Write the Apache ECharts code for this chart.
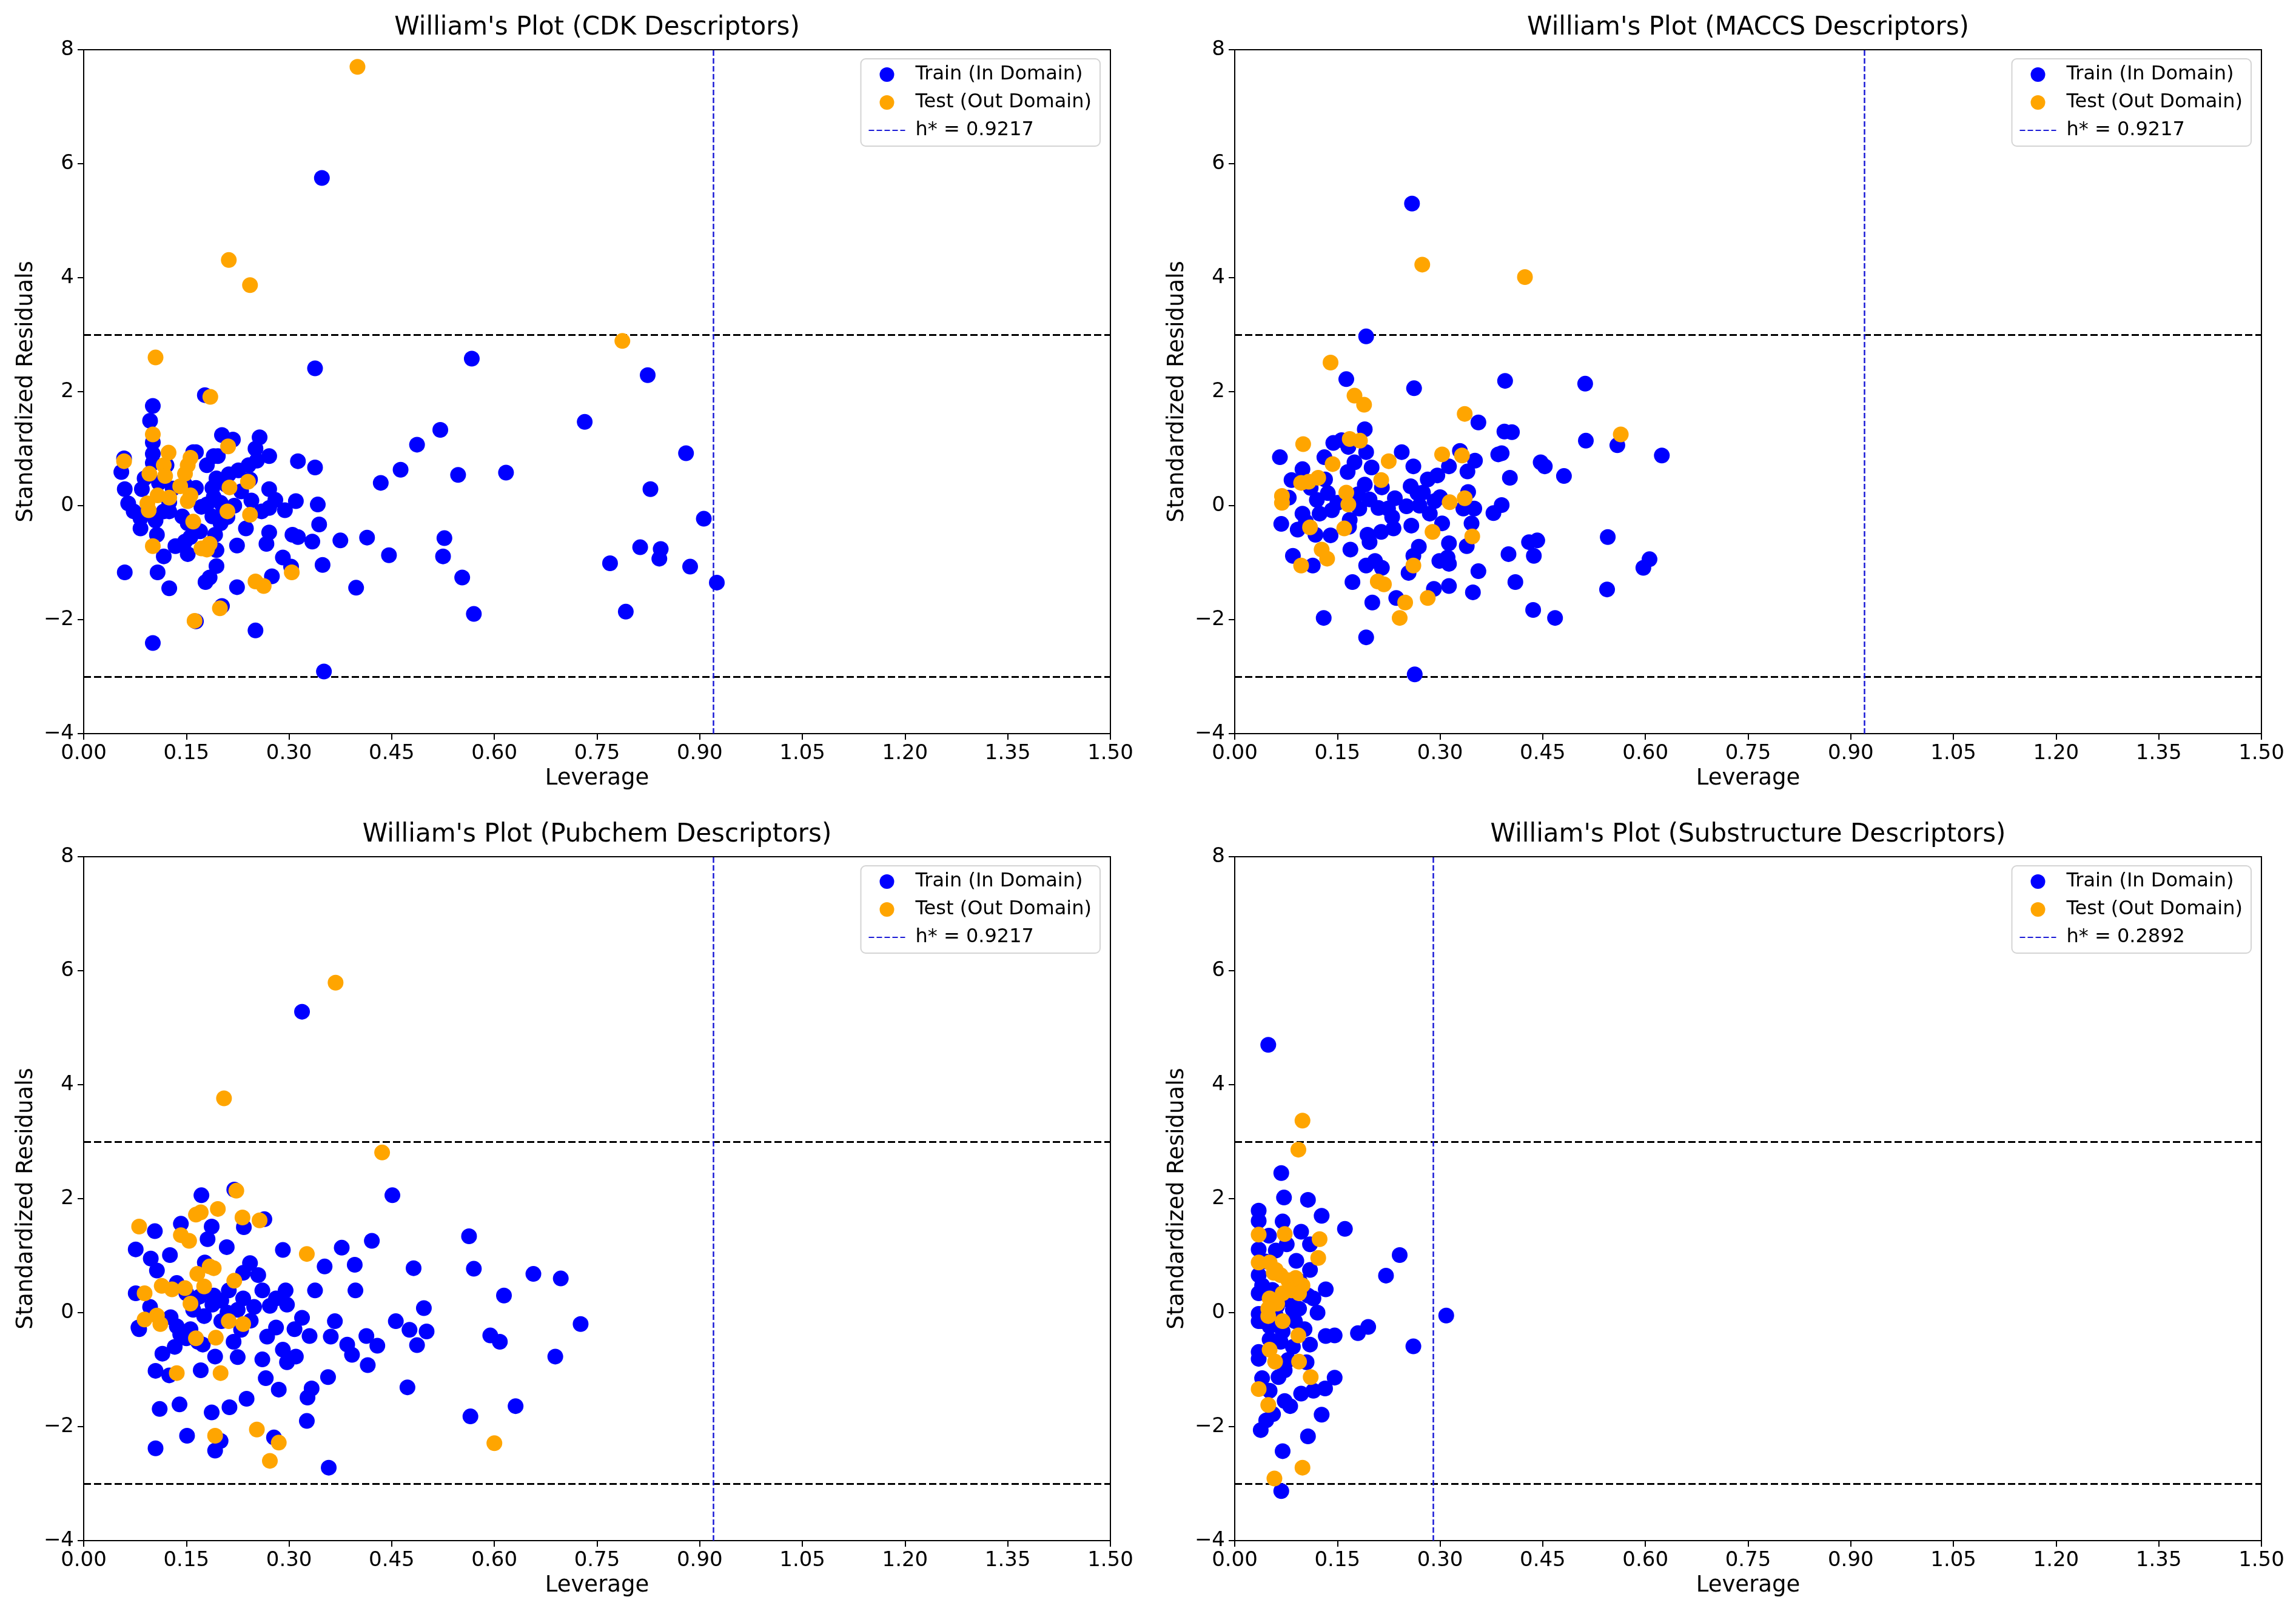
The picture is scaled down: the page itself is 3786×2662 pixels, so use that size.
<!DOCTYPE html>
<html>
<head>
<meta charset="utf-8">
<script src="https://cdn.jsdelivr.net/npm/echarts@6/dist/echarts.min.js"></script>
<style>
  html, body { margin: 0; padding: 0; background: #fff; }
  #chart { width: 3786px; height: 2662px; }
</style>
</head>
<body>
<div id="chart"></div>
<script>
// axis ranges (shared by all four panels)
const xMin = 0, xMax = 1.5, xStep = 0.15;
const yMin = -4, yMax = 8, yStep = 2;
const residualLimits = [3, -3];

const panelTitles = [
  "William's Plot (CDK Descriptors)",
  "William's Plot (MACCS Descriptors)",
  "William's Plot (Pubchem Descriptors)",
  "William's Plot (Substructure Descriptors)"
];
const hStar = [0.9217, 0.9217, 0.9217, 0.2892];
const trainName = 'Train (In Domain)';
const testName = 'Test (Out Domain)';

// [leverage, standardized residual]
const cdkTrain = [
  [0.338, 2.41], [0.567, 2.58], [0.177, 1.94], [0.101, 1.75], [0.097, 1.49], [0.101, 1.11],
  [0.101, 0.91], [0.101, 0.75], [0.059, 0.83], [0.055, 0.59], [0.060, 0.29], [0.065, 0.04],
  [0.073, -0.10], [0.083, -0.22], [0.083, -0.40], [0.093, -0.10], [0.089, 0.48], [0.085, 0.29],
  [0.105, -0.26], [0.107, -0.51], [0.117, -0.10], [0.125, 0.06], [0.125, -0.10], [0.121, 0.71],
  [0.144, -0.19], [0.148, 0.37], [0.160, 0.94], [0.152, -0.31], [0.164, 0.31], [0.172, -0.02],
  [0.180, 0.02], [0.188, 0.31], [0.194, 0.48], [0.196, 0.87], [0.202, 1.24], [0.218, 1.16],
  [0.188, -0.19], [0.200, -0.31], [0.204, -0.10], [0.192, -0.51], [0.194, -0.78], [0.194, -1.06],
  [0.184, -1.26], [0.178, -1.34], [0.156, -0.55], [0.148, -0.63], [0.134, -0.71], [0.152, -0.85],
  [0.117, -0.89], [0.108, -1.17], [0.060, -1.17], [0.125, -1.45], [0.202, -1.76], [0.164, -2.03],
  [0.101, -2.41], [0.251, -2.19], [0.224, -1.43], [0.275, -1.24], [0.303, -1.07], [0.291, -0.91],
  [0.224, -0.70], [0.237, -0.40], [0.267, -0.67], [0.271, -0.47], [0.305, -0.51], [0.313, -0.55],
  [0.334, -0.63], [0.375, -0.61], [0.414, -0.56], [0.446, -0.87], [0.398, -1.44], [0.349, -1.04],
  [0.344, -0.33], [0.342, 0.02], [0.310, 0.08], [0.294, -0.08], [0.271, -0.04], [0.271, 0.29],
  [0.245, 0.09], [0.243, 0.46], [0.241, 0.71], [0.253, 0.79], [0.271, 0.87], [0.257, 1.20],
  [0.251, 1.00], [0.226, 0.62], [0.212, 0.55], [0.208, 0.37], [0.180, 0.71], [0.190, 0.87],
  [0.164, 0.94], [0.313, 0.78], [0.338, 0.67], [0.434, 0.40], [0.463, 0.63], [0.487, 1.07],
  [0.521, 1.33], [0.547, 0.54], [0.527, -0.57], [0.525, -0.89], [0.553, -1.26], [0.570, -1.90],
  [0.617, 0.58], [0.732, 1.47], [0.824, 2.29], [0.880, 0.92], [0.828, 0.29], [0.906, -0.23],
  [0.813, -0.73], [0.843, -0.76], [0.841, -0.93], [0.769, -1.01], [0.886, -1.07], [0.925, -1.35],
  [0.792, -1.86], [0.348, 5.75], [0.351, -2.91], [0.200, 0.05], [0.210, -0.20], [0.190, 0.15],
  [0.220, 0.00], [0.170, -0.45], [0.130, 0.30], [0.110, 0.40], [0.230, 0.25], [0.260, -0.10],
  [0.280, 0.10]
];
const cdkTest = [
  [0.400, 7.70], [0.212, 4.31], [0.243, 3.87], [0.787, 2.89], [0.105, 2.60], [0.185, 1.91],
  [0.101, 1.25], [0.124, 0.93], [0.211, 1.04], [0.059, 0.78], [0.156, 0.84], [0.152, 0.71],
  [0.148, 0.56], [0.117, 0.71], [0.119, 0.52], [0.096, 0.56], [0.141, 0.34], [0.213, 0.32],
  [0.240, 0.42], [0.108, 0.18], [0.125, 0.14], [0.156, 0.18], [0.152, 0.08], [0.093, 0.04],
  [0.095, -0.08], [0.210, -0.10], [0.243, -0.16], [0.160, -0.28], [0.101, -0.71], [0.172, -0.75],
  [0.184, -0.67], [0.180, -0.77], [0.304, -1.17], [0.251, -1.33], [0.263, -1.41], [0.199, -1.80],
  [0.162, -2.02]
];

const maccsTrain = [
  [0.259, 5.30], [0.192, 2.97], [0.163, 2.22], [0.262, 2.06], [0.395, 2.19], [0.512, 2.14],
  [0.190, 1.34], [0.356, 1.46], [0.394, 1.30], [0.405, 1.29], [0.513, 1.14], [0.559, 1.06],
  [0.624, 0.88], [0.066, 0.85], [0.144, 1.10], [0.156, 1.15], [0.166, 1.03], [0.244, 0.94],
  [0.329, 0.96], [0.385, 0.90], [0.390, 0.92], [0.351, 0.79], [0.447, 0.76], [0.453, 0.69],
  [0.481, 0.52], [0.402, 0.49], [0.261, 0.69], [0.192, 0.94], [0.175, 0.76], [0.200, 0.67],
  [0.165, 0.59], [0.131, 0.85], [0.099, 0.64], [0.083, 0.45], [0.132, 0.46], [0.111, 0.31],
  [0.136, 0.22], [0.190, 0.37], [0.215, 0.32], [0.257, 0.34], [0.282, 0.46], [0.296, 0.53],
  [0.313, 0.69], [0.340, 0.60], [0.341, 0.24], [0.079, 0.14], [0.197, 0.11], [0.234, 0.13],
  [0.267, 0.22], [0.275, 0.23], [0.292, 0.08], [0.224, -0.05], [0.251, -0.01], [0.210, -0.04],
  [0.285, -0.14], [0.334, -0.05], [0.390, 0.01], [0.378, -0.13], [0.350, -0.05], [0.068, -0.32],
  [0.099, -0.14], [0.104, -0.28], [0.124, -0.14], [0.142, -0.08], [0.092, -0.42], [0.118, -0.51],
  [0.140, -0.52], [0.167, -0.37], [0.194, -0.51], [0.214, -0.46], [0.232, -0.40], [0.258, -0.35],
  [0.303, -0.31], [0.346, -0.31], [0.197, -0.64], [0.169, -0.77], [0.269, -0.72], [0.313, -0.66],
  [0.339, -0.71], [0.430, -0.64], [0.442, -0.61], [0.545, -0.55], [0.085, -0.88], [0.261, -0.88],
  [0.400, -0.85], [0.437, -0.88], [0.606, -0.94], [0.114, -1.05], [0.192, -1.05], [0.205, -0.97],
  [0.299, -0.97], [0.313, -1.02], [0.311, -0.91], [0.597, -1.09], [0.254, -1.18], [0.356, -1.15],
  [0.215, -1.09], [0.172, -1.34], [0.410, -1.34], [0.313, -1.41], [0.291, -1.46], [0.544, -1.47],
  [0.348, -1.52], [0.236, -1.62], [0.201, -1.70], [0.436, -1.83], [0.468, -1.97], [0.130, -1.97],
  [0.192, -2.31], [0.263, -2.96], [0.168, -0.25], [0.182, -0.05], [0.150, 0.05], [0.120, 0.10],
  [0.180, 0.20], [0.230, -0.20], [0.270, 0.00], [0.300, 0.15]
];
const maccsTest = [
  [0.274, 4.23], [0.424, 4.01], [0.140, 2.51], [0.175, 1.93], [0.189, 1.77], [0.336, 1.61],
  [0.564, 1.25], [0.168, 1.17], [0.183, 1.14], [0.100, 1.08], [0.303, 0.90], [0.332, 0.88],
  [0.225, 0.78], [0.143, 0.73], [0.122, 0.49], [0.108, 0.42], [0.097, 0.40], [0.214, 0.45],
  [0.163, 0.23], [0.069, 0.17], [0.069, 0.05], [0.166, 0.02], [0.336, 0.13], [0.314, 0.06],
  [0.110, -0.38], [0.160, -0.40], [0.289, -0.46], [0.347, -0.54], [0.127, -0.77], [0.135, -0.93],
  [0.097, -1.05], [0.261, -1.05], [0.209, -1.33], [0.218, -1.38], [0.249, -1.70], [0.282, -1.62],
  [0.241, -1.97]
];

const pubchemTrain = [
  [0.319, 5.28], [0.451, 2.06], [0.172, 2.06], [0.220, 2.16], [0.264, 1.64], [0.234, 1.50],
  [0.142, 1.56], [0.187, 1.51], [0.181, 1.29], [0.104, 1.43], [0.563, 1.34], [0.421, 1.26],
  [0.377, 1.14], [0.209, 1.15], [0.291, 1.10], [0.076, 1.11], [0.126, 1.01], [0.098, 0.95],
  [0.107, 0.74], [0.177, 0.88], [0.243, 0.87], [0.352, 0.81], [0.396, 0.84], [0.482, 0.78],
  [0.570, 0.77], [0.657, 0.68], [0.697, 0.60], [0.233, 0.70], [0.255, 0.66], [0.136, 0.52],
  [0.212, 0.39], [0.261, 0.39], [0.295, 0.39], [0.338, 0.39], [0.397, 0.39], [0.076, 0.34],
  [0.150, 0.34], [0.169, 0.28], [0.614, 0.30], [0.233, 0.25], [0.201, 0.21], [0.188, 0.14],
  [0.281, 0.25], [0.297, 0.14], [0.097, 0.10], [0.160, 0.05], [0.225, 0.05], [0.249, 0.10],
  [0.272, 0.12], [0.497, 0.08], [0.127, -0.08], [0.176, -0.06], [0.201, -0.15], [0.244, -0.14],
  [0.319, -0.09], [0.367, -0.15], [0.456, -0.15], [0.726, -0.20], [0.080, -0.26], [0.136, -0.24],
  [0.156, -0.29], [0.281, -0.26], [0.308, -0.29], [0.476, -0.30], [0.501, -0.33], [0.141, -0.38],
  [0.167, -0.51], [0.219, -0.51], [0.268, -0.42], [0.330, -0.41], [0.361, -0.42], [0.413, -0.41],
  [0.594, -0.40], [0.608, -0.51], [0.429, -0.58], [0.487, -0.57], [0.133, -0.60], [0.174, -0.56],
  [0.291, -0.65], [0.385, -0.56], [0.392, -0.74], [0.115, -0.72], [0.192, -0.77], [0.225, -0.78],
  [0.261, -0.82], [0.297, -0.87], [0.310, -0.77], [0.689, -0.77], [0.415, -0.92], [0.105, -1.02],
  [0.171, -1.01], [0.125, -1.10], [0.266, -1.15], [0.357, -1.13], [0.333, -1.33], [0.285, -1.35],
  [0.473, -1.31], [0.327, -1.49], [0.238, -1.51], [0.140, -1.61], [0.111, -1.69], [0.213, -1.66],
  [0.187, -1.75], [0.631, -1.64], [0.565, -1.82], [0.326, -1.90], [0.151, -2.16], [0.200, -2.25],
  [0.278, -2.19], [0.105, -2.38], [0.192, -2.42], [0.358, -2.72], [0.081, -0.29], [0.150, -0.45],
  [0.190, 0.30], [0.210, 0.00], [0.230, -0.30], [0.160, 0.20]
];
const pubchemTest = [
  [0.368, 5.79], [0.205, 3.76], [0.436, 2.81], [0.223, 2.14], [0.081, 1.51], [0.196, 1.82],
  [0.164, 1.72], [0.171, 1.76], [0.232, 1.67], [0.257, 1.62], [0.142, 1.36], [0.154, 1.26],
  [0.326, 1.03], [0.190, 0.78], [0.184, 0.81], [0.166, 0.68], [0.220, 0.56], [0.176, 0.46],
  [0.114, 0.47], [0.129, 0.41], [0.148, 0.43], [0.089, 0.34], [0.156, 0.16], [0.107, -0.05],
  [0.089, -0.12], [0.112, -0.20], [0.212, -0.15], [0.233, -0.20], [0.164, -0.45], [0.193, -0.44],
  [0.136, -1.06], [0.200, -1.06], [0.253, -2.05], [0.192, -2.16], [0.285, -2.28], [0.272, -2.60],
  [0.600, -2.29]
];

const subTrain = [
  [0.049, 4.70], [0.068, 2.45], [0.072, 2.02], [0.107, 1.98], [0.127, 1.70], [0.035, 1.79],
  [0.035, 1.61], [0.070, 1.60], [0.161, 1.47], [0.097, 1.42], [0.110, 1.20], [0.076, 1.20],
  [0.035, 1.11], [0.060, 1.09], [0.241, 1.01], [0.090, 0.91], [0.110, 0.75], [0.221, 0.65],
  [0.035, 0.66], [0.040, 0.48], [0.133, 0.41], [0.035, 0.34], [0.107, 0.30], [0.081, 0.21],
  [0.062, 0.12], [0.035, -0.02], [0.094, 0.07], [0.121, 0.00], [0.309, -0.05], [0.035, -0.15],
  [0.051, -0.24], [0.070, -0.33], [0.088, -0.15], [0.102, -0.29], [0.195, -0.25], [0.180, -0.36],
  [0.133, -0.41], [0.146, -0.40], [0.051, -0.47], [0.067, -0.51], [0.110, -0.56], [0.261, -0.59],
  [0.035, -0.69], [0.035, -0.81], [0.078, -0.83], [0.105, -0.87], [0.073, -1.01], [0.064, -1.13],
  [0.040, -1.15], [0.146, -1.14], [0.051, -1.37], [0.115, -1.37], [0.132, -1.33], [0.097, -1.42],
  [0.073, -1.55], [0.081, -1.64], [0.056, -1.78], [0.127, -1.79], [0.046, -1.89], [0.038, -2.06],
  [0.107, -2.17], [0.070, -2.43], [0.068, -3.13], [0.040, -0.15], [0.055, 0.40], [0.085, 0.05],
  [0.045, 0.90], [0.095, 0.55], [0.060, -0.05], [0.115, 0.25], [0.050, 1.35], [0.085, -0.60]
];
const subTest = [
  [0.099, 3.37], [0.093, 2.86], [0.035, 1.37], [0.073, 1.38], [0.124, 1.29], [0.122, 0.96],
  [0.035, 0.88], [0.051, 0.88], [0.060, 0.75], [0.067, 0.66], [0.057, 0.70], [0.078, 0.57],
  [0.089, 0.61], [0.099, 0.48], [0.083, 0.43], [0.070, 0.34], [0.051, 0.25], [0.062, 0.16],
  [0.049, 0.07], [0.049, -0.06], [0.070, -0.15], [0.093, -0.40], [0.051, -0.65], [0.059, -0.86],
  [0.094, -0.86], [0.111, -1.13], [0.035, -1.34], [0.049, -1.62], [0.099, -2.72], [0.058, -2.91],
  [0.083, 0.39], [0.094, 0.34]
];

const trainSets = [cdkTrain, maccsTrain, pubchemTrain, subTrain];
const testSets = [cdkTest, maccsTest, pubchemTest, subTest];

// layout (pixels)
const FONT = 'DejaVu Sans';
const gridW = 1693, gridH = 1128;
const gridLeft = [138, 2036, 138, 2036];
const gridTop = [82, 82, 1413, 1413];
const legendRight = [1972, 74, 1972, 74];
const hColor = '#1a1ad6';

const fmtY = (v) => (v < 0 ? '\u2212' + Math.abs(v) : String(v));

const grids = [], xAxes = [], yAxes = [], titles = [], legends = [], series = [];
panelTitles.forEach((t, i) => {
  const hName = 'h* = ' + hStar[i].toFixed(4);
  grids.push({
    left: gridLeft[i], top: gridTop[i], width: gridW, height: gridH,
    show: true, borderColor: '#000', borderWidth: 2, backgroundColor: 'transparent'
  });
  titles.push({
    text: t, left: gridLeft[i] + gridW / 2, top: gridTop[i] - 57, textAlign: 'center', padding: 0,
    textStyle: { fontFamily: FONT, fontSize: 42, fontWeight: 'normal', color: '#000' }
  });
  xAxes.push({
    type: 'value', gridIndex: i, min: xMin, max: xMax, interval: xStep,
    name: 'Leverage', nameLocation: 'middle', nameGap: 56,
    nameTextStyle: { fontFamily: FONT, fontSize: 37, color: '#000' },
    axisLine: { show: true, onZero: false, lineStyle: { color: '#000', width: 2 } },
    axisTick: { show: true, length: 10, lineStyle: { color: '#000', width: 2 } },
    axisLabel: { fontFamily: FONT, fontSize: 34, color: '#000', margin: 16, formatter: (v) => v.toFixed(2) },
    splitLine: { show: false }
  });
  yAxes.push({
    type: 'value', gridIndex: i, min: yMin, max: yMax, interval: yStep,
    name: 'Standardized Residuals', nameLocation: 'middle', nameGap: 76, nameRotate: 90,
    nameTextStyle: { fontFamily: FONT, fontSize: 37, color: '#000' },
    axisLine: { show: true, onZero: false, lineStyle: { color: '#000', width: 2 } },
    axisTick: { show: true, length: 10, lineStyle: { color: '#000', width: 2 } },
    axisLabel: { fontFamily: FONT, fontSize: 34, color: '#000', margin: 16, formatter: fmtY },
    splitLine: { show: false }
  });
  legends.push({
    orient: 'vertical', right: legendRight[i], top: gridTop[i] + 15, align: 'left',
    itemWidth: 60, itemHeight: 24, itemGap: 14,
    padding: [10, 14, 10, 12],
    backgroundColor: '#fff', borderColor: '#d4d4d4', borderWidth: 2, borderRadius: 8,
    textStyle: { fontFamily: FONT, fontSize: 32, color: '#000', padding: [0, 0, 0, 12] },
    data: [
      { name: trainName, icon: 'circle' },
      { name: testName, icon: 'circle' },
      { name: hName, itemStyle: { opacity: 0 } }
    ]
  });
  series.push({
    name: trainName, type: 'scatter', xAxisIndex: i, yAxisIndex: i,
    data: trainSets[i], symbolSize: 26, itemStyle: { color: '#0000ff', opacity: 1 }, z: 3,
    markLine: {
      silent: true, symbol: ['none', 'none'], label: { show: false }, z: 2,
      data: residualLimits.map((v) => ({
        yAxis: v, lineStyle: { color: '#000', type: [12, 5], width: 3 }
      })).concat([{
        xAxis: hStar[i], lineStyle: { color: hColor, type: [9, 4], width: 2.5 }
      }])
    }
  });
  series.push({
    name: testName, type: 'scatter', xAxisIndex: i, yAxisIndex: i,
    data: testSets[i], symbolSize: 26, itemStyle: { color: '#ffa500', opacity: 1 }, z: 4
  });
  series.push({
    name: hName, type: 'line', xAxisIndex: i, yAxisIndex: i, data: [], symbol: 'none',
    itemStyle: { color: hColor },
    lineStyle: { color: hColor, type: [9, 4], width: 3 }
  });
});

const chart = echarts.init(document.getElementById('chart'), null, { renderer: 'canvas' });
chart.setOption({
  animation: false,
  backgroundColor: '#fff',
  title: titles,
  legend: legends,
  grid: grids,
  xAxis: xAxes,
  yAxis: yAxes,
  series: series
});
</script>
</body>
</html>
